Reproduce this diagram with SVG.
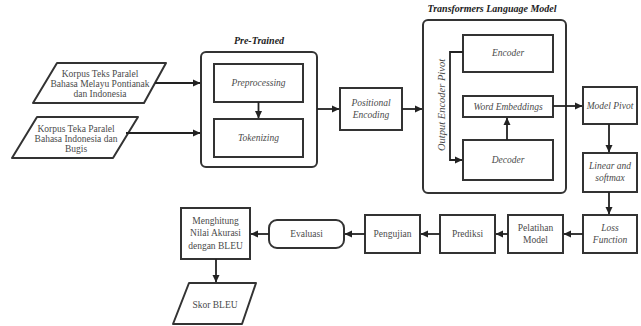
<svg xmlns="http://www.w3.org/2000/svg" width="641" height="326" viewBox="0 0 641 326">
<defs>
<marker id="arr" markerWidth="8" markerHeight="8" refX="7" refY="4" orient="auto" markerUnits="userSpaceOnUse">
<path d="M0,0.5 L7.5,4 L0,7.5 Z" fill="#222"/>
</marker>
<style>
.b{fill:#fff;stroke:#333;stroke-width:2}
.c{fill:none;stroke:#222;stroke-width:1.8;marker-end:url(#arr)}
text{font-family:"Liberation Serif","DejaVu Serif",serif;fill:#4a4a4a;font-size:9.5px;text-anchor:middle}
.i{font-style:italic}
.t{font-style:italic;font-weight:bold;fill:#222;font-size:10px}
</style>
</defs>
<rect width="641" height="326" fill="#fff"/>
<g id="korpus1">
<path class="b" d="M57,63 L166,63 L144,103 L33,103 Z" stroke-linejoin="round"/>
<text x="100" y="77">Korpus Teks Paralel</text>
<text x="100" y="86.5">Bahasa Melayu Pontianak</text>
<text x="100" y="97">dan Indonesia</text>
</g>
<g id="korpus2">
<path class="b" d="M37,117 L138,117 L113,158 L12,158 Z" stroke-linejoin="round"/>
<text x="76" y="132">Korpus Teka Paralel</text>
<text x="76" y="142">Bahasa Indonesia dan</text>
<text x="76" y="152">Bugis</text>
</g>
<g id="pretrained">
<text class="t" x="259" y="44">Pre-Trained</text>
<rect class="b" x="201" y="52" width="116" height="115" rx="5"/>
</g>
<g id="preprocessing">
<rect class="b" x="214" y="64" width="89" height="38"/>
<text class="i" x="258.5" y="86">Preprocessing</text>
</g>
<g id="tokenizing">
<rect class="b" x="214" y="119" width="89" height="38"/>
<text class="i" x="258.5" y="141">Tokenizing</text>
</g>
<g id="positional">
<rect class="b" x="340" y="88" width="62" height="42"/>
<text class="i" x="371" y="106">Positional</text>
<text class="i" x="371" y="118">Encoding</text>
</g>
<g id="transformers">
<text class="t" x="492" y="12">Transformers Language Model</text>
<rect class="b" x="423" y="20" width="143" height="173" rx="5"/>
<text class="i" style="font-size:10.5px" transform="translate(445,105) rotate(-90)">Output Encoder Pivot</text>
</g>
<g id="encoder">
<rect class="b" x="463" y="35" width="90" height="37"/>
<text class="i" x="508" y="56">Encoder</text>
</g>
<g id="wordemb">
<rect class="b" x="463" y="96" width="90" height="21"/>
<text class="i" x="508" y="109.5">Word Embeddings</text>
</g>
<g id="decoder">
<rect class="b" x="463" y="140" width="90" height="40"/>
<text class="i" x="508" y="163">Decoder</text>
</g>
<g id="modelpivot">
<rect class="b" x="583" y="87" width="54" height="37"/>
<text class="i" x="610" y="109">Model Pivot</text>
</g>
<g id="linear">
<rect class="b" x="583" y="153" width="54" height="39"/>
<text class="i" x="610" y="169">Linear and</text>
<text class="i" x="610" y="181">softmax</text>
</g>
<g id="loss">
<rect class="b" x="583" y="215" width="54" height="38"/>
<text class="i" x="610" y="231">Loss</text>
<text class="i" x="610" y="243">Function</text>
</g>
<g id="pelatihan">
<rect class="b" x="508" y="215" width="55" height="38"/>
<text x="535.5" y="231">Pelatihan</text>
<text x="535.5" y="243">Model</text>
</g>
<g id="prediksi">
<rect class="b" x="440" y="215" width="55" height="38"/>
<text x="467.5" y="237">Prediksi</text>
</g>
<g id="pengujian">
<rect class="b" x="365" y="215" width="55" height="38"/>
<text x="392.5" y="237">Pengujian</text>
</g>
<g id="evaluasi">
<rect class="b" x="269" y="220" width="75" height="28" rx="8"/>
<text x="306.5" y="237">Evaluasi</text>
</g>
<g id="menghitung">
<rect class="b" x="181" y="208" width="69" height="51"/>
<text x="215.5" y="224">Menghitung</text>
<text x="215.5" y="236">Nilai Akurasi</text>
<text x="215.5" y="249">dengan BLEU</text>
</g>
<g id="skor">
<path class="b" d="M189,283 L256,283 L242,324 L173,324 Z" stroke-linejoin="round"/>
<text x="215" y="308">Skor BLEU</text>
</g>
<g id="connectors">
<line class="c" x1="155" y1="83" x2="200" y2="83"/>
<line class="c" x1="126" y1="133" x2="200" y2="133"/>
<line class="c" x1="258.5" y1="102" x2="258.5" y2="118"/>
<line class="c" x1="317" y1="109" x2="339" y2="109"/>
<line class="c" x1="402" y1="109" x2="422" y2="109"/>
<polyline class="c" points="463,52 450,52 450,160 462,160"/>
<line class="c" x1="507" y1="140" x2="507" y2="118"/>
<line class="c" x1="553" y1="106" x2="582" y2="106"/>
<line class="c" x1="609" y1="124" x2="609" y2="152"/>
<line class="c" x1="609" y1="192" x2="609" y2="214"/>
<line class="c" x1="583" y1="234" x2="564" y2="234"/>
<line class="c" x1="508" y1="234" x2="496" y2="234"/>
<line class="c" x1="440" y1="234" x2="421" y2="234"/>
<line class="c" x1="365" y1="234" x2="345" y2="234"/>
<line class="c" x1="269" y1="234" x2="251" y2="234"/>
<line class="c" x1="216" y1="259" x2="216" y2="282"/>
</g>
</svg>
